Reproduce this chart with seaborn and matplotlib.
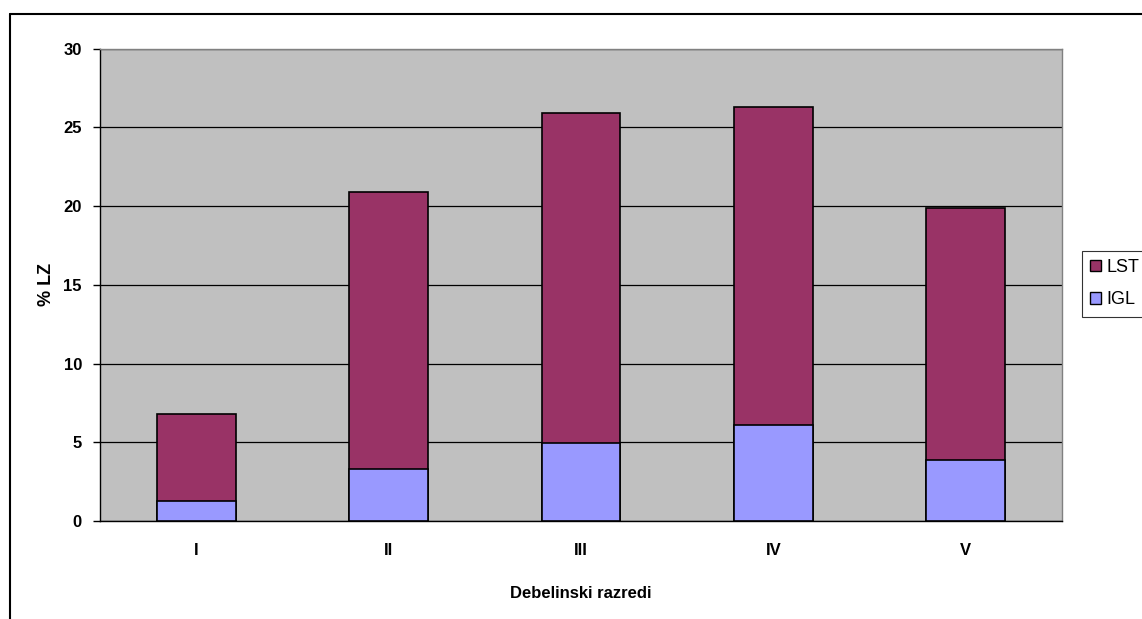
import numpy as np
import pandas as pd
import matplotlib
matplotlib.use("Agg")
import matplotlib.pyplot as plt
import seaborn as sns
from matplotlib.patches import Patch
from matplotlib.lines import Line2D

razredi = ["I", "II", "III", "IV", "V"]
igl = [1.3, 3.3, 4.95, 6.1, 3.85]
lst = [5.5, 17.6, 20.95, 20.2, 16.05]

df = pd.DataFrame({"razred": razredi, "IGL": igl, "LST": lst})
df["skupaj"] = df["IGL"] + df["LST"]

sns.set_theme(style="white")
plt.rcParams["font.family"] = ["Liberation Sans", "DejaVu Sans"]
plt.rcParams["text.color"] = "black"
plt.rcParams["axes.labelcolor"] = "black"
plt.rcParams["xtick.color"] = "black"
plt.rcParams["ytick.color"] = "black"

fig = plt.figure(figsize=(11.42, 6.19), dpi=100)
ax = fig.add_axes([100 / 1142, 1 - 521 / 619, 962 / 1142, (521 - 48.7) / 619])
ax.set_facecolor("#C0C0C0")

c_lst = "#993366"
c_igl = "#9999FF"

# stacked: total first (LST colour), IGL drawn over it
sns.barplot(data=df, x="razred", y="skupaj", color=c_lst, width=0.41,
            edgecolor="black", linewidth=1.2, saturation=1, ax=ax, zorder=3)
sns.barplot(data=df, x="razred", y="IGL", color=c_igl, width=0.41,
            edgecolor="black", linewidth=1.2, saturation=1, ax=ax, zorder=4)

ax.set_ylim(0, 30)
ax.set_xlim(-0.5, 4.5)
ax.set_yticks(range(0, 31, 5))
ax.yaxis.grid(True, color="black", linewidth=0.9, zorder=1)
ax.set_axisbelow(True)

# x ticks at category boundaries, labels at centers
ax.set_xticks(np.arange(-0.5, 5, 1), minor=True)
ax.tick_params(axis="x", which="major", length=0, pad=16)
ax.tick_params(axis="x", which="minor", length=5, width=1, color="black", direction="out")
ax.tick_params(axis="y", length=5, width=1, color="black", direction="out", left=True, pad=8)

for lab in ax.get_xticklabels() + ax.get_yticklabels():
    lab.set_fontweight("bold")
    lab.set_fontsize(12)

ax.set_xlabel("Debelinski razredi", fontsize=12, fontweight="bold", labelpad=20)
ax.set_ylabel("% LZ", fontsize=13, fontweight="bold", labelpad=6)

for s in ["left", "bottom"]:
    ax.spines[s].set_color("black")
    ax.spines[s].set_linewidth(1)
for s in ["top", "right"]:
    ax.spines[s].set_color("#808080")
    ax.spines[s].set_linewidth(1)

handles = [Patch(facecolor=c_lst, edgecolor="black", label="LST"),
           Patch(facecolor=c_igl, edgecolor="black", label="IGL")]
leg = fig.legend(handles=handles, loc="upper left",
                 bbox_to_anchor=(1082 / 1142, 1 - 251 / 619),
                 frameon=True, fancybox=False, fontsize=13,
                 handlelength=0.6, handleheight=0.6, handletextpad=0.3,
                 borderpad=0.45, labelspacing=0.85, borderaxespad=0)
leg.get_frame().set_edgecolor("black")
leg.get_frame().set_linewidth(0.8)

# outer chart frame
fig.add_artist(Line2D([10 / 1142, 10 / 1142], [0, 1 - 14 / 619],
                      transform=fig.transFigure, color="black", linewidth=1.5))
fig.add_artist(Line2D([10 / 1142, 1], [1 - 14 / 619, 1 - 14 / 619],
                      transform=fig.transFigure, color="black", linewidth=1.5))

fig.savefig("out.png", dpi=100)
